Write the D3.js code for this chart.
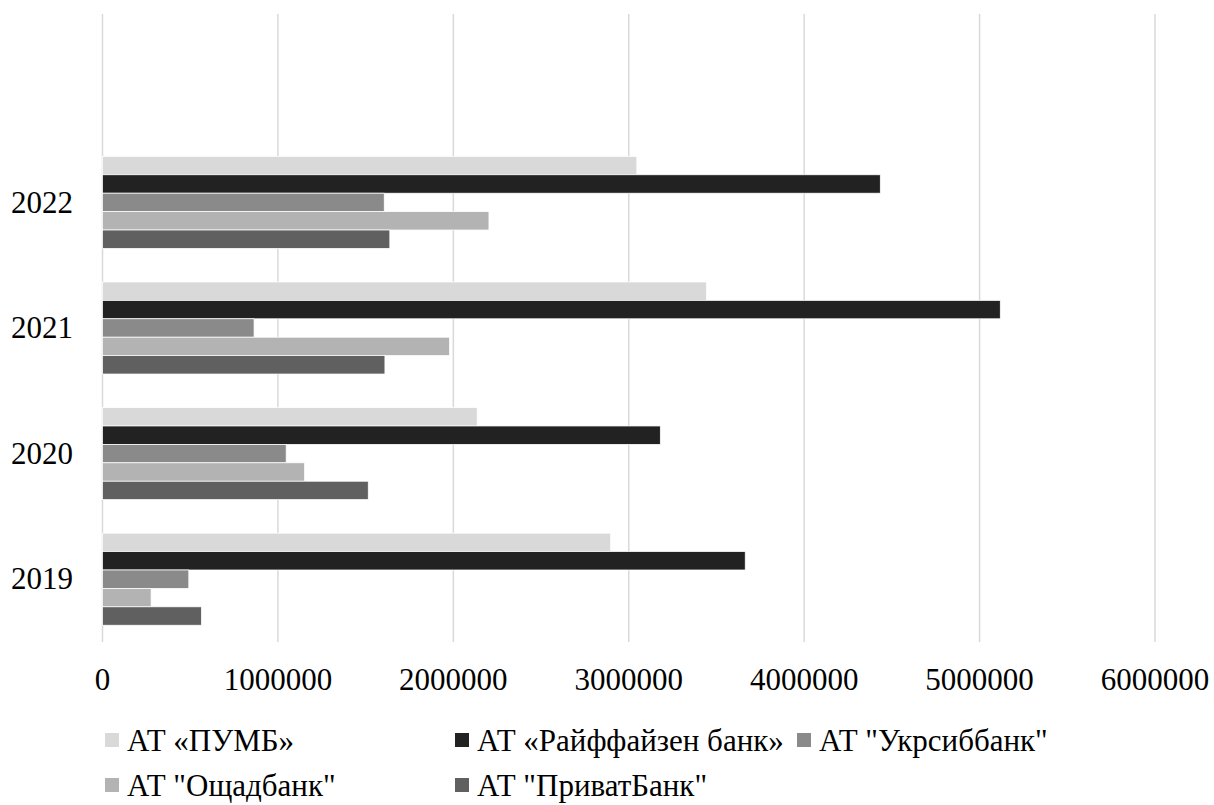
<!DOCTYPE html>
<html>
<head>
<meta charset="utf-8">
<script src="https://cdn.jsdelivr.net/npm/d3@7"></script>
<style>
  html, body { margin: 0; padding: 0; background: #fff; }
  svg { display: block; }
</style>
</head>
<body>
<div id="chart"></div>
<script>
const WIDTH = 1214;
const HEIGHT = 805;
const FONT = "'Liberation Serif'";

// categories, top to bottom (first slot is empty in the original chart)
const years = ["", "2022", "2021", "2020", "2019"];
const banks = ["АТ «ПУМБ»", "АТ «Райффайзен банк»", "АТ \"Укрсиббанк\"", "АТ \"Ощадбанк\"", "АТ \"ПриватБанк\""];
const bankColors = ["#d9d9d9", "#222222", "#8a8a8a", "#b3b3b3", "#606060"];

// values per bank, in order 2022, 2021, 2020, 2019
const pumb      = [3046000, 3444000, 2136000, 2897000];
const raiff     = [4434000, 5118000, 3180000, 3664000];
const ukrsib    = [1606000,  864000, 1047000,  492000];
const oschad    = [2203000, 1978000, 1152000,  277000];
const privat    = [1638000, 1610000, 1515000,  564000];
const xTicks = [0, 1000000, 2000000, 3000000, 4000000, 5000000, 6000000];

const series = [pumb, raiff, ukrsib, oschad, privat];
const dataYears = years.slice(1);

const svg = d3.select("#chart").append("svg")
    .attr("width", WIDTH)
    .attr("height", HEIGHT);

const x = d3.scaleLinear()
    .domain([0, 6000000])
    .range([102.5, 1155]);

const y = d3.scaleBand()
    .domain(years)
    .range([14, 642])
    .paddingInner(0.267)
    .paddingOuter(0.1335);

const ySub = d3.scaleBand()
    .domain(banks)
    .range([0, y.bandwidth()]);

// gridlines
svg.append("g")
    .selectAll("line")
    .data(xTicks)
    .join("line")
    .attr("x1", d => x(d))
    .attr("x2", d => x(d))
    .attr("y1", 14)
    .attr("y2", 642)
    .attr("stroke", "#d9d9d9")
    .attr("stroke-width", 1.5);

// bars
const rows = [];
dataYears.forEach((yr, i) => {
    banks.forEach((b, j) => {
        rows.push({ year: yr, bank: b, value: series[j][i], color: bankColors[j] });
    });
});

svg.append("g")
    .selectAll("rect")
    .data(rows)
    .join("rect")
    .attr("x", x(0))
    .attr("y", d => y(d.year) + ySub(d.bank))
    .attr("width", d => x(d.value) - x(0))
    .attr("height", ySub.bandwidth())
    .attr("fill", d => d.color)
    .attr("stroke", "#fff")
    .attr("stroke-width", 0.75);

// x tick labels
svg.append("g")
    .selectAll("text")
    .data(xTicks)
    .join("text")
    .attr("x", d => x(d))
    .attr("y", 690)
    .attr("text-anchor", "middle")
    .style("font-family", FONT)
    .style("font-size", "31px")
    .attr("fill", "#000")
    .text(d => d);

// y labels
svg.append("g")
    .selectAll("text")
    .data(dataYears)
    .join("text")
    .attr("x", 73)
    .attr("y", d => y(d) + y.bandwidth() / 2)
    .attr("dy", "0.33em")
    .attr("text-anchor", "end")
    .style("font-family", FONT)
    .style("font-size", "31px")
    .attr("fill", "#000")
    .text(d => d);

// legend
const legendCols = [105, 455, 797];
const legendRows = [740, 785];
const legend = svg.append("g")
    .selectAll("g")
    .data(banks)
    .join("g")
    .attr("transform", (d, i) => `translate(${legendCols[i % 3]}, ${legendRows[Math.floor(i / 3)]})`);

legend.append("rect")
    .attr("x", 0)
    .attr("y", -7)
    .attr("width", 14)
    .attr("height", 14)
    .attr("fill", (d, i) => bankColors[i]);

legend.append("text")
    .attr("x", 22)
    .attr("y", 11)
    .style("font-family", FONT)
    .style("font-size", "31px")
    .attr("fill", "#000")
    .text(d => d);
</script>
</body>
</html>
